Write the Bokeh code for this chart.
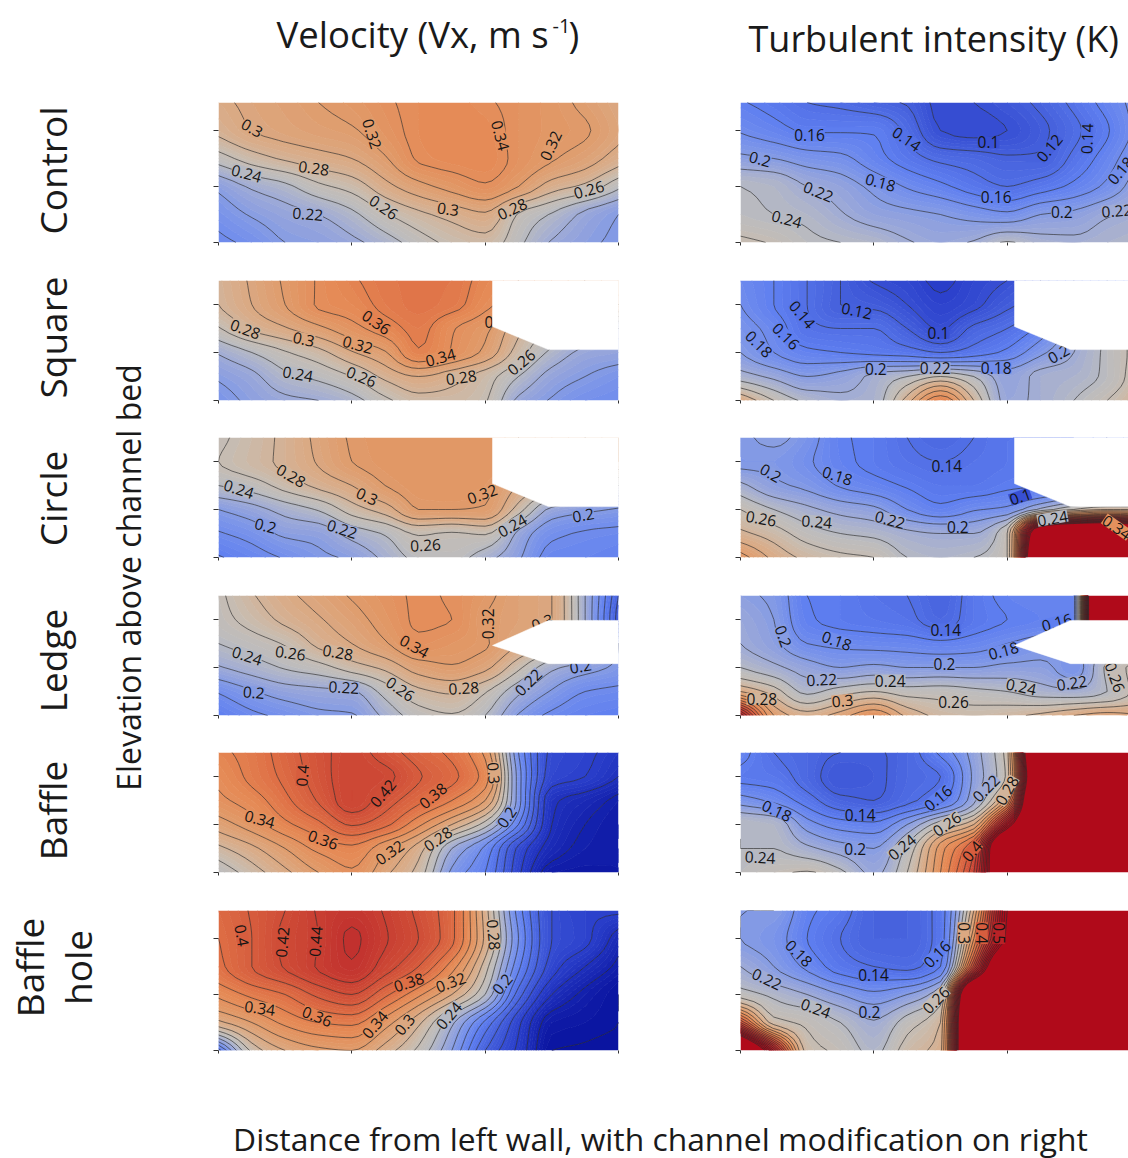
import numpy as np
from bokeh.plotting import figure
from bokeh.layouts import column, row
from bokeh.models import Range1d, FixedTicker, ColumnDataSource
from bokeh.core.properties import value
from bokeh.embed import file_html
from bokeh.resources import INLINE

XS = [0, .25, .5, .75, 1, 1.25, 1.5, 1.75, 2, 2.25, 2.5, 2.75, 3]
YS_TOP_DOWN = [2.5, 2, 1.5, 1, .5, 0]

VX_CONTROL = [
 [.295,.305,.312,.320,.327,.337,.345,.347,.342,.335,.327,.315,.300],
 [.285,.300,.307,.313,.318,.332,.345,.350,.347,.335,.328,.322,.305],
 [.250,.270,.283,.292,.300,.318,.342,.347,.348,.335,.322,.310,.290],
 [.205,.223,.235,.255,.268,.293,.313,.327,.338,.320,.290,.275,.245],
 [.188,.202,.212,.220,.235,.258,.275,.287,.297,.258,.238,.215,.200],
 [.175,.185,.200,.205,.215,.230,.250,.265,.272,.245,.218,.205,.195]]
VX_SQUARE = [
 [.283,.303,.323,.342,.357,.368,.372,.370,.352,.340,.330,.320,.310],
 [.280,.300,.320,.342,.350,.365,.372,.367,.345,.330,.320,.310,.300],
 [.258,.283,.298,.315,.333,.350,.365,.342,.325,.287,.260,.240,.220],
 [.222,.240,.258,.273,.298,.318,.358,.338,.315,.270,.235,.215,.210],
 [.203,.215,.235,.245,.260,.285,.300,.288,.270,.240,.212,.200,.190],
 [.190,.205,.215,.220,.232,.255,.272,.272,.262,.215,.198,.185,.180]]
VX_CIRCLE = [
 [.255,.270,.285,.305,.322,.328,.330,.330,.330,.320,.310,.300,.290],
 [.260,.272,.285,.302,.320,.327,.330,.330,.330,.320,.310,.300,.290],
 [.240,.250,.268,.285,.300,.320,.328,.330,.325,.300,.280,.260,.240],
 [.200,.212,.228,.242,.270,.290,.320,.320,.318,.270,.215,.205,.198],
 [.178,.188,.204,.208,.228,.242,.262,.258,.262,.215,.185,.178,.175],
 [.158,.170,.182,.195,.204,.225,.245,.248,.228,.203,.172,.170,.165]]
VX_LEDGE = [
 [.255,.278,.295,.308,.322,.333,.342,.338,.325,.310,.300,.220,.120],
 [.252,.268,.285,.298,.312,.328,.342,.340,.320,.310,.300,.220,.110],
 [.240,.250,.262,.285,.300,.318,.336,.330,.322,.300,.280,.250,.200],
 [.218,.230,.242,.252,.270,.285,.310,.318,.305,.265,.225,.210,.195],
 [.182,.198,.210,.215,.218,.248,.275,.283,.262,.225,.198,.180,.175],
 [.160,.175,.185,.195,.198,.225,.250,.258,.240,.198,.175,.165,.160]]
VX_BAFFLE = [
 [.355,.368,.390,.412,.428,.410,.390,.375,.335,.180,.095,.085,.070],
 [.345,.365,.385,.410,.430,.425,.402,.385,.350,.190,.090,.080,.060],
 [.335,.350,.375,.402,.430,.410,.385,.360,.320,.190,.065,.050,.035],
 [.310,.330,.355,.375,.402,.385,.345,.300,.250,.160,.060,.040,.030],
 [.275,.295,.320,.345,.355,.325,.290,.220,.175,.095,.050,.035,.030],
 [.245,.270,.295,.320,.337,.305,.272,.195,.160,.085,.030,.028,.030]]
VX_HOLE = [
 [.385,.402,.420,.442,.452,.438,.415,.385,.290,.170,.100,.085,.085],
 [.380,.400,.425,.440,.463,.442,.420,.385,.295,.180,.100,.085,.050],
 [.375,.400,.422,.442,.458,.430,.400,.350,.270,.165,.090,.060,.035],
 [.345,.365,.380,.405,.420,.385,.345,.300,.240,.130,.060,.035,.020],
 [.295,.320,.345,.360,.365,.330,.285,.225,.155,.085,.030,.025,.020],
 [.150,.265,.300,.315,.320,.290,.255,.200,.120,.075,.020,.018,.015]]
K_CONTROL = [
 [.162,.152,.140,.135,.125,.118,.095,.100,.110,.125,.145,.168,.190],
 [.178,.168,.158,.158,.158,.135,.100,.095,.100,.115,.135,.158,.190],
 [.205,.200,.190,.185,.168,.150,.135,.130,.123,.123,.145,.170,.200],
 [.240,.235,.220,.210,.195,.178,.165,.150,.140,.150,.165,.185,.215],
 [.245,.240,.235,.222,.210,.205,.200,.192,.185,.200,.205,.218,.225],
 [.265,.258,.245,.240,.235,.222,.215,.222,.242,.228,.225,.230,.235]]
K_SQUARE = [
 [.175,.160,.140,.120,.098,.090,.075,.090,.100,.120,.140,.160,.180],
 [.180,.160,.140,.120,.115,.100,.085,.095,.115,.130,.150,.170,.180],
 [.190,.172,.145,.140,.140,.120,.098,.125,.140,.165,.210,.240,.270],
 [.200,.180,.165,.160,.155,.150,.140,.150,.165,.195,.220,.245,.270],
 [.230,.215,.200,.208,.225,.240,.260,.240,.210,.225,.230,.245,.275],
 [.300,.260,.235,.225,.230,.290,.360,.280,.215,.225,.240,.260,.285]]
K_CIRCLE = [
 [.195,.205,.190,.163,.155,.140,.130,.140,.150,.150,.150,.160,.170],
 [.195,.195,.183,.165,.155,.145,.140,.145,.150,.160,.165,.170,.170],
 [.225,.205,.195,.178,.168,.158,.150,.150,.157,.160,.170,.170,.170],
 [.260,.240,.225,.213,.205,.180,.165,.178,.185,.225,.260,.280,.280],
 [.285,.270,.250,.240,.235,.225,.220,.220,.260,.720,.800,.800,.700],
 [.330,.295,.275,.265,.260,.240,.235,.240,.260,.800,.850,.800,.700]]
K_LEDGE = [
 [.205,.195,.160,.155,.145,.140,.125,.150,.165,.170,.170,1.20,1.20],
 [.215,.200,.163,.155,.150,.145,.130,.150,.160,.165,.170,1.20,1.20],
 [.220,.205,.180,.175,.172,.170,.165,.170,.180,.190,.200,.210,.230],
 [.240,.225,.210,.200,.205,.200,.200,.200,.205,.205,.190,.245,.270],
 [.300,.270,.235,.250,.260,.250,.250,.245,.240,.230,.225,.240,.270],
 [.500,.320,.290,.310,.340,.295,.275,.270,.275,.285,.300,.310,.300]]
K_BAFFLE = [
 [.170,.140,.130,.120,.118,.130,.165,.210,.270,.850,.850,.850,.850],
 [.155,.150,.130,.110,.115,.130,.140,.205,.265,.800,.850,.850,.850],
 [.190,.175,.150,.125,.120,.135,.155,.215,.330,.850,.850,.850,.850],
 [.240,.235,.190,.170,.165,.200,.255,.300,.550,.850,.850,.850,.850],
 [.240,.240,.225,.210,.200,.245,.330,.410,.800,.850,.850,.850,.850],
 [.245,.255,.262,.245,.215,.260,.340,.440,.800,.900,.900,.900,.900]]
K_HOLE = [
 [.200,.200,.165,.150,.125,.125,.150,.300,.600,.850,.850,.850,.850],
 [.200,.190,.160,.140,.125,.125,.150,.340,.620,.850,.850,.850,.850],
 [.220,.200,.175,.150,.140,.135,.160,.430,.800,.850,.850,.850,.850],
 [.250,.235,.220,.200,.185,.200,.240,.800,.850,.850,.850,.850,.850],
 [.420,.270,.255,.240,.222,.250,.280,.850,.850,.850,.850,.850,.850],
 [.850,.520,.270,.255,.235,.270,.290,.850,.850,.850,.850,.850,.850]]

TITLE_VX = "Velocity (Vx, m s"
TITLE_K = "Turbulent intensity (K)"
XLABEL = "Distance from left wall, with channel modification on right"
YLABEL = "Elevation above channel bed"
ROWS = ["Control", "Square", "Circle", "Ledge", "Baffle"]

L = [
 ((200,90),[("0.3",155,112,-30),("0.32",515,130,-72),("0.34",900,135,-75),("0.32",1050,165,65),("0.28",340,232,-8),("0.24",138,248,-15),("0.22",322,370,-5),("0.26",550,350,-35),("0.3",743,355,-8),("0.28",935,355,25),("0.26",1165,297,15)]),
 ((200,90),[("0.28",135,715,-20),("0.3",310,745,-12),("0.32",472,762,-15),("0.36",528,695,-35),("0.34",720,800,15),("0",865,695,0),("0.24",292,850,-10),("0.26",483,858,-22),("0.28",782,860,8),("0.26",962,815,40)]),
 ((200,425),[("0.24",115,190,-18),("0.28",272,150,-30),("0.3",500,212,-25),("0.32",845,205,20),("0.2",195,300,-15),("0.22",425,310,-18),("0.26",675,358,3),("0.24",935,300,30),("0.2",1148,268,10)]),
 ((200,425),[("0.24",140,690,-18),("0.26",270,682,-8),("0.28",412,680,-10),("0.34",642,662,-30),("0.32",862,595,90),("0.3",1025,590,20),("0.2",160,800,-5),("0.22",430,785,-3),("0.26",600,790,-35),("0.28",790,787,3),("0.22",983,770,45),("0.2",1140,722,10)]),
 ((200,740),[("0.4",305,105,85),("0.42",547,158,50),("0.38",697,165,40),("0.3",880,98,-85),("0.34",178,235,-15),("0.36",368,297,-20),("0.2",918,230,55),("0.28",712,295,35),("0.32",567,335,35)]),
 ((200,740),[("0.4",125,585,-80),("0.42",245,605,85),("0.44",345,603,85),("0.28",880,583,-85),("0.38",625,725,18),("0.32",750,725,20),("0.2",905,730,50),("0.34",178,802,-8),("0.36",350,827,-22),("0.34",523,852,50),("0.3",612,852,50),("0.24",745,825,50)]),
 ((728,90),[("0.16",243,133,0),("0.14",535,145,-35),("0.1",780,155,0),("0.12",962,172,50),("0.14",1075,145,88),("0.2",95,205,-15),("0.18",456,275,-15),("0.22",270,303,-22),("0.24",175,385,-15),("0.16",803,318,0),("0.2",1000,365,0),("0.22",1165,360,5),("0.18",1175,240,50)]),
 ((728,90),[("0.14",222,672,-50),("0.12",385,660,-12),("0.16",173,737,-45),("0.18",92,760,-45),("0.1",630,727,0),("0.2",442,835,0),("0.22",620,833,0),("0.18",803,832,0),("0.2",990,790,30)]),
 ((728,425),[("0.2",127,142,-30),("0.18",327,150,-18),("0.14",655,120,0),("0.1",875,213,20),("0.26",98,278,-10),("0.24",265,288,-5),("0.22",485,282,-15),("0.2",688,303,0),("0.24",972,278,10),("0.34",1165,305,-35)]),
 ((728,425),[("0.2",165,632,-70),("0.18",325,645,-20),("0.14",652,612,0),("0.16",985,590,15),("0.18",825,675,15),("0.2",648,716,0),("0.22",280,762,3),("0.24",485,765,0),("0.24",878,783,-12),("0.22",1030,772,8),("0.26",1160,755,-70),("0.28",100,820,0),("0.3",342,825,5),("0.26",675,830,0)]),
 ((728,740),[("0.18",145,210,-25),("0.14",395,222,0),("0.16",628,172,40),("0.22",772,143,45),("0.28",835,150,60),("0.26",655,250,35),("0.24",520,320,40),("0.2",380,325,0),("0.24",95,350,-3),("0.4",730,332,50)]),
 ((728,740),[("0.18",212,638,-45),("0.14",435,703,0),("0.16",625,640,45),("0.3",705,578,-90),("0.4",760,578,-90),("0.5",812,578,-90),("0.22",115,715,-25),("0.24",262,803,-20),("0.2",423,813,0),("0.26",622,778,45)]),
]

CV = [.02,.08,.12,.16,.19,.22,.245,.265,.29,.32,.35,.38,.42,.46,.52,.56]
CC = ["#0a14a0","#2a3fcb","#4560dc","#5f7ff0","#7a94ea","#9fabd6","#bcbcbe","#c8bcb0","#d8ae8c","#e09c6c","#e58a55","#de6e45","#cf4d37","#c2322e","#b41a24","#b00a1a"]
rgb = np.array([[int(c[i:i+2],16) for i in (1,3,5)] for c in CC], float)
def colour(v):
    return "#%02x%02x%02x" % tuple(int(round(np.interp(v, CV, rgb[:,i]))) for i in range(3))

FILL_LEVELS = np.r_[np.arange(0, 0.56, 0.005), 2.0]
FILL_COLORS = [colour(v+.0025) for v in FILL_LEVELS[:-1]]
EDGE_COLORS = [colour(v) for v in FILL_LEVELS]
LINE_LEVELS = np.arange(0.02, 0.62, 0.02)
FONT = "Open Sans"
REFINE = 5

def pchip_axis(a, step):
    """Shape-keeping cubic through the read values, along axis 0."""
    n = a.shape[0]
    d = np.diff(a, axis=0)
    m = np.zeros_like(a)
    prod = d[:-1]*d[1:]
    m[1:-1] = np.where(prod > 0, 2*prod/np.where(d[:-1]+d[1:] == 0, 1, d[:-1]+d[1:]), 0)
    m[0], m[-1] = d[0], d[-1]
    out = []
    for i in range(n-1):
        for k in range(step):
            t = k/step
            out.append((2*t**3-3*t**2+1)*a[i] + (t**3-2*t**2+t)*m[i] + (-2*t**3+3*t**2)*a[i+1] + (t**3-t**2)*m[i+1])
    out.append(a[-1])
    return np.array(out)

def refine(z):
    return pchip_axis(pchip_axis(z, REFINE).T, REFINE).T

ys = np.array(YS_TOP_DOWN[::-1], float)
xs = np.array(XS, float)
x_fine = np.linspace(xs[0], xs[-1], (len(xs)-1)*REFINE+1)
y_fine = np.linspace(ys[0], ys[-1], (len(ys)-1)*REFINE+1)
x_grid, y_grid = np.meshgrid(x_fine, y_fine)

CUT_STEP = ([2.055,2.055,2.475,3.02,3.02],[2.52,1.54,1.06,1.06,2.52])
CUT_LEDGE = ([2.055,2.475,3.02,3.02,2.475],[1.46,1.98,1.98,1.08,1.08])

def panel(data, lbl, cut, left, width, height, frame_h, page_top, xmax, frame_w):
    p = figure(width=width, height=height, output_backend="svg", toolbar_location=None,
               x_range=Range1d(0, xmax), y_range=Range1d(0, 2.5),
               min_border_left=left, min_border_right=width-left-frame_w,
               min_border_top=0, min_border_bottom=height-frame_h,
               outline_line_color=None, background_fill_color=None, border_fill_color=None)
    p.grid.visible = False
    z = refine(np.array(data)[::-1])
    p.contour(x_grid, y_grid, z, FILL_LEVELS, fill_color=FILL_COLORS, line_color=EDGE_COLORS, line_width=1)
    p.contour(x_grid, y_grid, z, LINE_LEVELS, fill_color=None, line_color="#2a2a2a", line_width=0.8, line_alpha=0.8)
    o, items = lbl
    sx = xmax/frame_w
    ox = 218 if o[0] == 200 else 740
    src = dict(x=[], y=[], t=[], a=[], bg=[])
    for t, zx, zy, ang in items:
        px, py = o[0]+zx/3, o[1]+zy/3
        src["x"].append((px-ox)*sx)
        src["y"].append((page_top+frame_h-py)*2.5/frame_h)
        src["t"].append(t)
        src["a"].append(np.deg2rad(ang))
        src["bg"].append(colour(float(t)) if t != "0" else None)
    p.text("x", "y", text="t", angle="a", source=ColumnDataSource(src), text_font=value(FONT),
           text_font_size="15.5px", text_color="#141414", text_align="center", text_baseline="middle",
           background_fill_color="bg", padding=0)
    if cut is not None:
        p.patch(cut[0], cut[1], fill_color="white", line_color="white", line_width=0.5)
    for ax, ticks in ((p.xaxis, [0,1,2,3]), (p.yaxis, [0,1,2])):
        ax.ticker = FixedTicker(ticks=ticks)
        ax.axis_line_color = None
        ax.major_tick_line_color = "#333333"
        ax.major_tick_line_width = 1
        ax.minor_tick_line_color = None
        ax.major_tick_in = 0
        ax.major_label_overrides = {t: "" for t in ticks}
        ax.major_label_text_font_size = "1px"
        ax.major_label_standoff = 0
    p.xaxis.major_tick_out = 3
    p.yaxis.major_tick_out = 5
    return p

TOPS = [102, 280, 437, 595, 752, 910]
FRAMES = [140, 120, 120, 120, 120, 140]
HEIGHTS = [178, 157, 158, 157, 158, 200]
VX = [VX_CONTROL, VX_SQUARE, VX_CIRCLE, VX_LEDGE, VX_BAFFLE, VX_HOLE]
K = [K_CONTROL, K_SQUARE, K_CIRCLE, K_LEDGE, K_BAFFLE, K_HOLE]
CUTS = [None, CUT_STEP, CUT_STEP, CUT_LEDGE, None, None]

left_col = [panel(VX[i], L[i], CUTS[i], 10, 522, HEIGHTS[i], FRAMES[i], TOPS[i], 3.0, 400) for i in range(6)]
right_col = [panel(K[i], L[6+i], CUTS[i], 10, 398, HEIGHTS[i], FRAMES[i], TOPS[i], 388/133.333, 388) for i in range(6)]

def strip(w, h, x0, y0):
    p = figure(width=w, height=h, output_backend="svg", toolbar_location=None,
               x_range=Range1d(x0, x0+w), y_range=Range1d(y0+h, y0), min_border=0,
               outline_line_color=None, x_axis_type=None, y_axis_type=None)
    p.grid.visible = False
    return p

def put(p, x, y, t, size, angle=0, align="center"):
    p.text([x], [y], text=[t], angle=angle, text_font=value(FONT), text_font_size=size,
           text_color="#1a1a1a", text_align=align, text_baseline="middle")

top = strip(1128, 102, 0, 0)
put(top, 276, 33, TITLE_VX, "36.5px", align="left")
put(top, 552, 25, "-1", "20px", align="left")
put(top, 568, 33, ")", "36.5px", align="left")
put(top, 748, 38, TITLE_K, "36px", align="left")

side = strip(208, 1008, 0, 102)
centers = [170, 337, 498, 660, 810]
for name, cy in zip(ROWS, centers):
    put(side, 52, cy, name, "37px", angle=np.pi/2)
put(side, 29, 967, "Baffle", "37px", angle=np.pi/2)
put(side, 77, 967, "hole", "37px", angle=np.pi/2)
put(side, 128, 577, YLABEL, "32px", angle=np.pi/2)

bottom = strip(1128, 48, 0, 1110)
put(bottom, 660, 1138, XLABEL, "31.8px")

layout = column(top, row(side, column(*left_col), column(*right_col)), bottom)
open("out.html", "w").write(file_html(layout, INLINE))
